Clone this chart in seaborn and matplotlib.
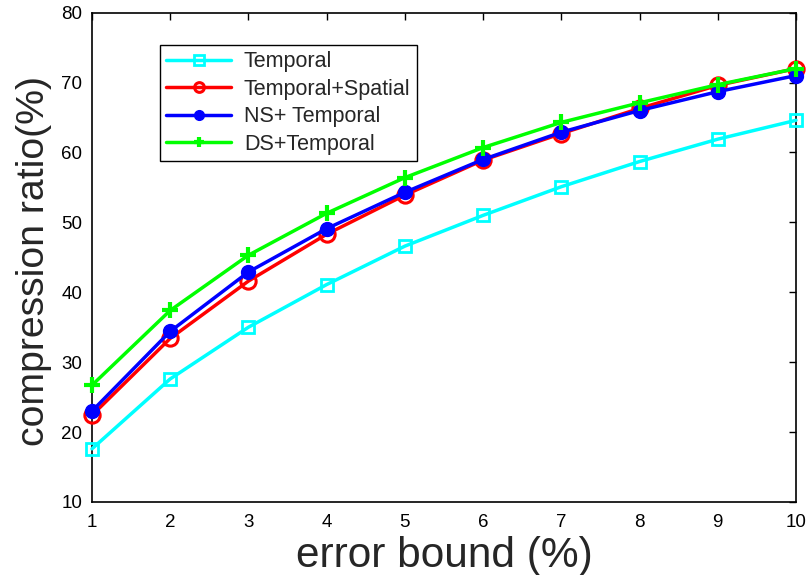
import matplotlib
matplotlib.use("Agg")
import matplotlib.pyplot as plt
import seaborn as sns
import pandas as pd

error_bound = [1, 2, 3, 4, 5, 6, 7, 8, 9, 10]
temporal = [17.6, 27.6, 35.0, 41.1, 46.6, 51.0, 55.1, 58.7, 61.9, 64.6]
temporal_spatial = [22.4, 33.4, 41.6, 48.3, 53.9, 58.9, 62.7, 66.3, 69.6, 72.0]
ns_temporal = [23.0, 34.4, 42.9, 49.1, 54.3, 59.0, 62.9, 66.0, 68.7, 71.0]
ds_temporal = [26.7, 37.4, 45.3, 51.3, 56.4, 60.7, 64.3, 67.1, 69.7, 72.0]
labels = ["Temporal", "Temporal+Spatial", "NS+ Temporal", "DS+Temporal"]
x_ticks = [1, 2, 3, 4, 5, 6, 7, 8, 9, 10]
y_ticks = [10, 20, 30, 40, 50, 60, 70, 80]

sns.set_style("white")
plt.rcParams['font.family'] = ['Liberation Sans', 'DejaVu Sans']

fig = plt.figure(figsize=(8.11, 5.75), dpi=100)
ax = fig.add_axes([0.1134, 0.127, 0.8681, 0.851])

styles = [
    dict(color="#00FFFF", marker="s", mfc="none", mec="#00FFFF", ms=8, mew=2),
    dict(color="#FF0000", marker="o", mfc="none", mec="#FF0000", ms=11, mew=2.2),
    dict(color="#0000FF", marker="o", mfc="#0000FF", mec="#0000FF", ms=10, mew=1),
    dict(color="#00FF00", marker="+", mec="#00FF00", ms=11, mew=3),
]
series = [temporal, temporal_spatial, ns_temporal, ds_temporal]
for vals, lab, st in zip(series, labels, styles):
    df = pd.DataFrame({"x": error_bound, "y": vals})
    sns.lineplot(data=df, x="x", y="y", ax=ax, label=lab, lw=2.5,
                 clip_on=False, zorder=3, **st)

ax.set_xlim(1, 10)
ax.set_ylim(10, 80)
ax.set_xticks(x_ticks)
ax.set_yticks(y_ticks)
ax.tick_params(direction="in", top=True, right=True, length=5, width=1,
               labelsize=13.5, colors="black")
ax.tick_params(axis="x", pad=9)
ax.tick_params(axis="y", pad=7)
for sp in ax.spines.values():
    sp.set_visible(True)
    sp.set_color("black")
    sp.set_linewidth(1.2)
ax.set_xlabel("error bound (%)", fontsize=30.5, labelpad=3)
ax.set_ylabel("compression ratio(%)", fontsize=28.3)
ax.yaxis.set_label_coords(-0.057, 0.492)

leg = ax.legend(loc="upper left", bbox_to_anchor=(0.0965, 0.934), fontsize=15.5,
                frameon=True, fancybox=False, edgecolor="black", framealpha=1,
                handlelength=3.0, handletextpad=0.6, borderpad=0.3,
                labelspacing=0.3, borderaxespad=0)
leg.get_frame().set_linewidth(1.0)
for h in leg.legend_handles:
    h.set_markersize(7)
    h.set_linewidth(2.5)

fig.savefig("out.png", dpi=100)
